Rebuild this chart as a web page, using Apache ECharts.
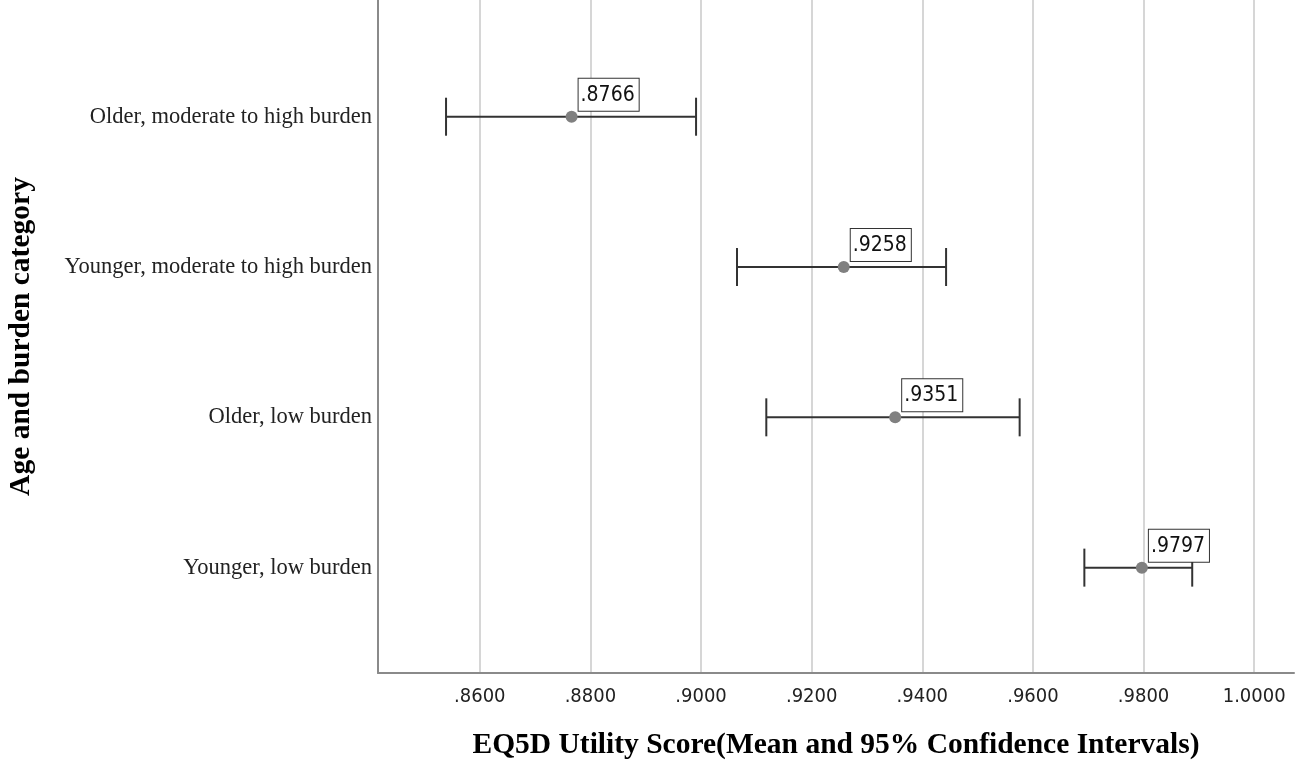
<!DOCTYPE html>
<html>
<head>
<meta charset="utf-8">
<script src="https://cdn.jsdelivr.net/npm/echarts@6/dist/echarts.min.js"></script>
<style>
  html, body { margin: 0; padding: 0; background: #fff; }
  #chart { width: 1295px; height: 763px; }
</style>
</head>
<body>
<div id="chart"></div>
<script>
// categories listed top to bottom
const categories = [
  'Older, moderate to high burden',
  'Younger, moderate to high burden',
  'Older, low burden',
  'Younger, low burden'
];
const means = [0.8766, 0.9258, 0.9351, 0.9797];
const lower = [0.8539, 0.9065, 0.9118, 0.9693];
const upper = [0.8991, 0.9443, 0.9576, 0.9888];
const xTicks = [0.86, 0.88, 0.90, 0.92, 0.94, 0.96, 0.98, 1.00];
const catIndex = categories.map((c, i) => i);

const chart = echarts.init(document.getElementById('chart'), null, { renderer: 'canvas' });

function fmt(v) {
  // SPSS style: drop leading zero
  return v < 1 ? v.toFixed(4).replace(/^0/, '') : v.toFixed(4);
}

const narrow = "'DejaVu Sans Condensed', 'Liberation Sans Narrow', 'Arial Narrow', sans-serif";
const serif = "'Liberation Serif', 'Times New Roman', serif";

chart.setOption({
  animation: false,
  grid: { left: 378, right: 1, top: 0, bottom: 90, containLabel: false, outerBoundsMode: 'none' },
  xAxis: {
    type: 'value',
    min: 0.8416,
    max: 1.0072,
    name: 'EQ5D Utility Score(Mean and 95% Confidence Intervals)',
    nameLocation: 'middle',
    nameGap: 57,
    nameTextStyle: { fontFamily: serif, fontWeight: 'bold', fontSize: 29.5, color: '#000' },
    axisLine: { show: true, onZero: false, lineStyle: { color: '#8a8a8a', width: 2 } },
    axisTick: { show: false, customValues: xTicks },
    axisLabel: {
      customValues: xTicks,
      formatter: fmt,
      fontFamily: narrow,
      fontSize: 20,
      color: '#222',
      margin: 14
    },
    splitLine: { show: true, lineStyle: { color: '#c8c8c8', width: 1.5 } }
  },
  yAxis: {
    type: 'value',
    inverse: true,
    min: -0.7765,
    max: 3.701,
    name: 'Age and burden category',
    nameLocation: 'middle',
    nameRotate: 90,
    nameGap: 342,
    nameTextStyle: { fontFamily: serif, fontWeight: 'bold', fontSize: 29.5, color: '#000' },
    axisLine: { show: true, onZero: false, lineStyle: { color: '#8a8a8a', width: 2 } },
    axisTick: { show: false, customValues: catIndex },
    axisLabel: {
      customValues: catIndex,
      formatter: v => categories[v],
      fontFamily: serif,
      fontSize: 22.5,
      color: '#222',
      margin: 6
    },
    splitLine: { show: false }
  },
  series: [
    {
      type: 'custom',
      z: 2,
      data: catIndex.map(i => [lower[i], upper[i], i]),
      encode: { x: [0, 1], y: 2 },
      renderItem: function (params, api) {
        const p0 = api.coord([api.value(0), api.value(2)]);
        const p1 = api.coord([api.value(1), api.value(2)]);
        const cap = 19;
        const style = { stroke: '#333', lineWidth: 2 };
        return {
          type: 'group',
          children: [
            { type: 'line', shape: { x1: p0[0], y1: p0[1], x2: p1[0], y2: p1[1] }, style: style },
            { type: 'line', shape: { x1: p0[0], y1: p0[1] - cap, x2: p0[0], y2: p0[1] + cap }, style: style },
            { type: 'line', shape: { x1: p1[0], y1: p1[1] - cap, x2: p1[0], y2: p1[1] + cap }, style: style }
          ]
        };
      }
    },
    {
      type: 'scatter',
      z: 3,
      symbol: 'circle',
      symbolSize: 12,
      itemStyle: { color: '#808080', opacity: 1 },
      data: means.map((m, i) => [m, i]),
      label: {
        show: true,
        position: [13, 0],
        align: 'left',
        verticalAlign: 'bottom',
        formatter: p => fmt(p.value[0]),
        fontFamily: narrow,
        fontSize: 21,
        lineHeight: 23,
        color: '#111',
        backgroundColor: '#fff',
        borderColor: '#333',
        borderWidth: 1,
        padding: [5, 4, 4, 2]
      }
    }
  ]
});
</script>
</body>
</html>
